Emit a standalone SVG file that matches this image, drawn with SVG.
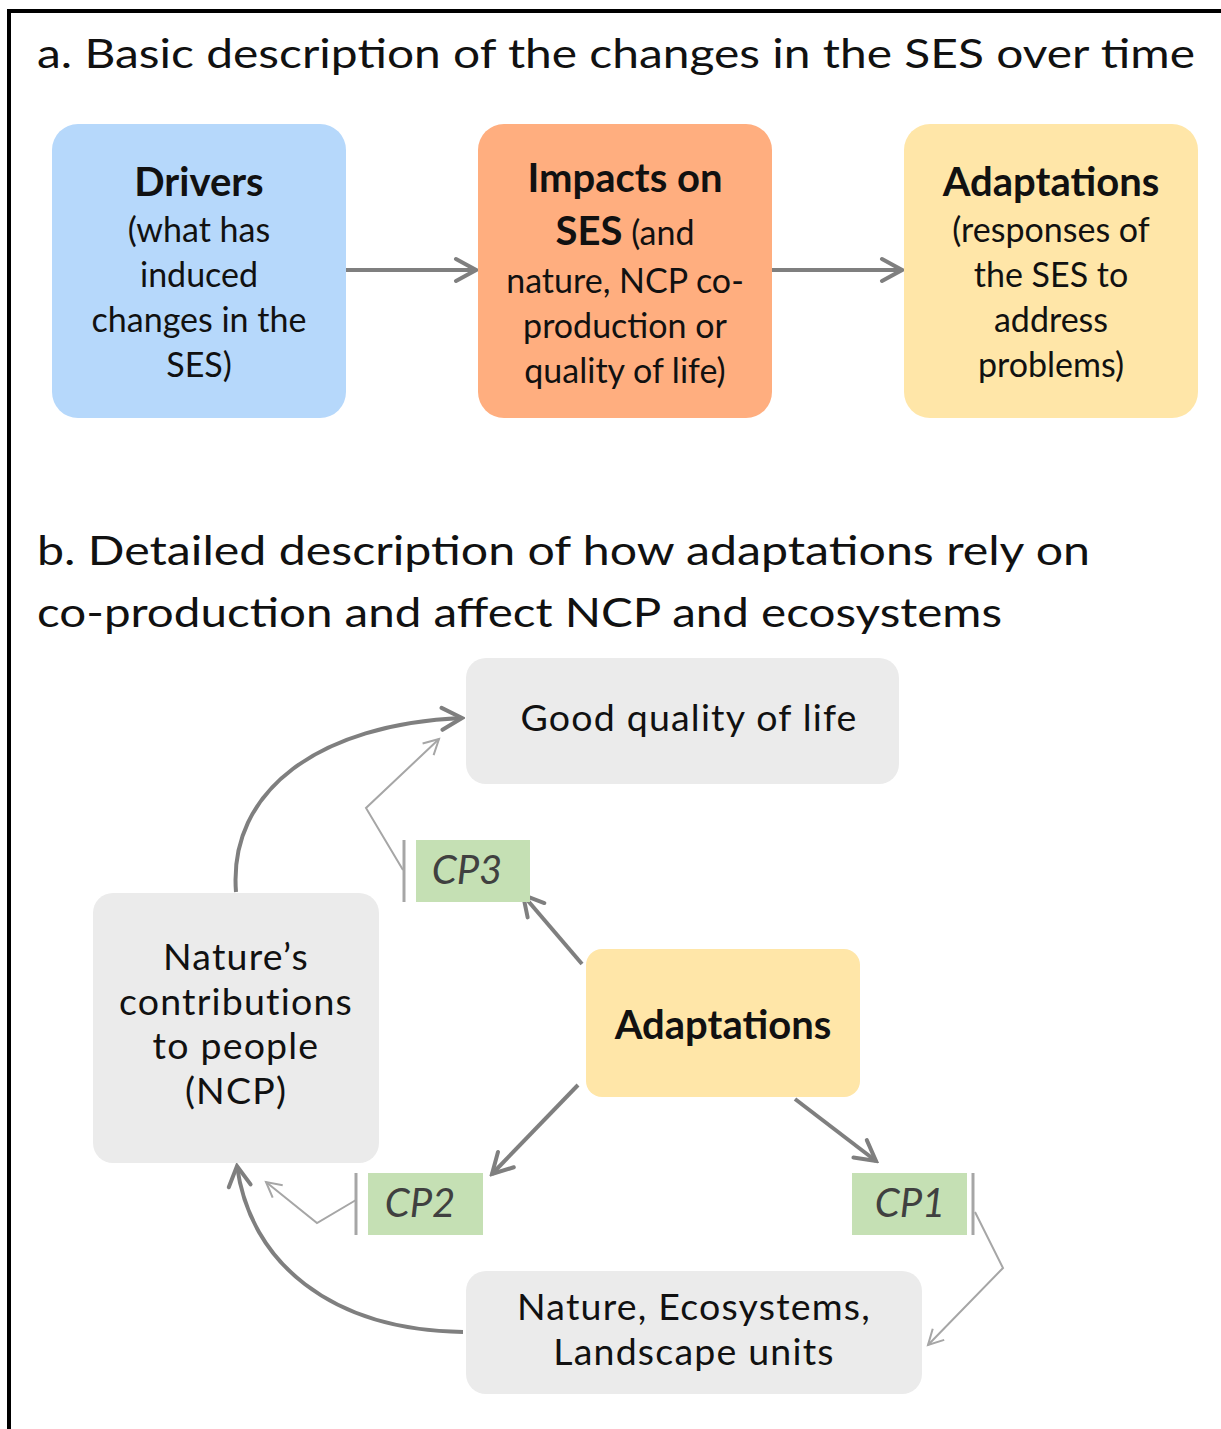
<svg xmlns="http://www.w3.org/2000/svg" width="1221" height="1429" viewBox="0 0 1221 1429">
<style>
  text { font-family: Lato, "Open Sans", "Liberation Sans", sans-serif; fill: #111; text-anchor: middle; }
  .title { font-size: 40px; text-anchor: start; }
  .box { font-size: 34px; }
  .b { font-weight: bold; }
  .hd { font-size: 40px; font-weight: bold; }
  .big { font-size: 37.5px; letter-spacing: 1.2px; }
  .bigb { font-size: 40px; font-weight: bold; }
  .cp { font-size: 40px; font-style: italic; fill: #404040; }
  .thick { fill: none; stroke: #7f7f7f; stroke-width: 4; }
  .thin { fill: none; stroke: #a6a6a6; stroke-width: 2; }
  .bar { stroke: #a6a6a6; stroke-width: 3; }
</style>
<defs>
  <marker id="ah" markerUnits="userSpaceOnUse" viewBox="0 0 26 28" markerWidth="26" markerHeight="28" refX="23" refY="14" orient="auto">
    <path d="M3,3 L23,14 L3,25" fill="none" stroke="#7f7f7f" stroke-width="4" stroke-linecap="round" stroke-linejoin="miter"/>
  </marker>
  <marker id="ahs" markerUnits="userSpaceOnUse" viewBox="0 0 20 20" markerWidth="20" markerHeight="20" refX="17" refY="10" orient="auto">
    <path d="M2,2 L17,10 L2,18" fill="none" stroke="#a6a6a6" stroke-width="2"/>
  </marker>
</defs>
<rect width="1221" height="1429" fill="#ffffff"/>
<rect x="9" y="11" width="1230" height="1440" fill="none" stroke="#000" stroke-width="4"/>

<text class="title" x="37" y="68" textLength="1158" lengthAdjust="spacingAndGlyphs">a. Basic description of the changes in the SES over time</text>
<text class="title" x="37" y="565" textLength="1053" lengthAdjust="spacingAndGlyphs">b. Detailed description of how adaptations rely on</text>
<text class="title" x="37" y="627" textLength="965" lengthAdjust="spacingAndGlyphs">co-production and affect NCP and ecosystems</text>

<g id="connectors">
  <line class="thick" x1="346" y1="270" x2="476" y2="270" marker-end="url(#ah)"/>
  <line class="thick" x1="772" y1="270" x2="902" y2="270" marker-end="url(#ah)"/>
  <path class="thick" d="M236,892 C228,790 320,724 462,718" marker-end="url(#ah)"/>
  <path class="thin" d="M403,870 L366,808 L439,739" marker-end="url(#ahs)"/>
  <line class="thick" x1="582" y1="964" x2="523" y2="895" marker-end="url(#ah)"/>
  <line class="thick" x1="578" y1="1085" x2="492" y2="1174" marker-end="url(#ah)"/>
  <line class="thick" x1="795" y1="1099" x2="876" y2="1161" marker-end="url(#ah)"/>
  <path class="thin" d="M356,1200 L317,1223 L266,1182" marker-end="url(#ahs)"/>
  <path class="thick" d="M463,1332 C330,1330 250,1262 237,1166" marker-end="url(#ah)"/>
  <path class="thin" d="M975,1212 L1003,1268 L928,1345" marker-end="url(#ahs)"/>
</g>

<g id="drivers">
  <rect x="52" y="124" width="294" height="294" rx="26" fill="#b6d8fb"/>
  <text class="hd" x="199" y="196">Drivers</text>
  <text class="box" x="199" y="242">(what has</text>
  <text class="box" x="199" y="287">induced</text>
  <text class="box" x="199" y="332">changes in the</text>
  <text class="box" x="199" y="377">SES)</text>
</g>
<g id="impacts">
  <rect x="478" y="124" width="294" height="294" rx="26" fill="#ffae7f"/>
  <text class="hd" x="625" y="192">Impacts on</text>
  <text class="box" x="625" y="245"><tspan class="hd">SES</tspan> (and</text>
  <text class="box" x="625" y="293">nature, NCP co-</text>
  <text class="box" x="625" y="338">production or</text>
  <text class="box" x="625" y="383">quality of life)</text>
</g>
<g id="adaptations-a">
  <rect x="904" y="124" width="294" height="294" rx="26" fill="#ffe6a8"/>
  <text class="hd" x="1051" y="196">Adaptations</text>
  <text class="box" x="1051" y="242">(responses of</text>
  <text class="box" x="1051" y="287">the SES to</text>
  <text class="box" x="1051" y="332">address</text>
  <text class="box" x="1051" y="377">problems)</text>
</g>

<g id="quality">
  <rect x="466" y="658" width="433" height="126" rx="20" fill="#ebebeb"/>
  <text class="big" x="689" y="731">Good quality of life</text>
</g>
<g id="ncp">
  <rect x="93" y="893" width="286" height="270" rx="20" fill="#ebebeb"/>
  <text class="big" x="236" y="970">Nature’s</text>
  <text class="big" x="236" y="1015">contributions</text>
  <text class="big" x="236" y="1059">to people</text>
  <text class="big" x="236" y="1104">(NCP)</text>
</g>
<g id="adaptations-b">
  <rect x="586" y="949" width="274" height="148" rx="16" fill="#ffe6a8"/>
  <text class="bigb" x="723" y="1039">Adaptations</text>
</g>
<g id="nature">
  <rect x="466" y="1271" width="456" height="123" rx="20" fill="#ebebeb"/>
  <text class="big" x="694" y="1320">Nature, Ecosystems,</text>
  <text class="big" x="694" y="1365">Landscape units</text>
</g>
<g id="cp3">
  <rect x="416" y="840" width="114" height="62" fill="#c5e0b4"/>
  <line class="bar" x1="404" y1="840" x2="404" y2="902"/>
  <text class="cp" x="467" y="884">CP3</text>
</g>
<g id="cp2">
  <rect x="368" y="1173" width="115" height="62" fill="#c5e0b4"/>
  <line class="bar" x1="356" y1="1173" x2="356" y2="1235"/>
  <text class="cp" x="420" y="1217">CP2</text>
</g>
<g id="cp1">
  <rect x="852" y="1173" width="115" height="62" fill="#c5e0b4"/>
  <line class="bar" x1="973" y1="1173" x2="973" y2="1235"/>
  <text class="cp" x="910" y="1217">CP1</text>
</g>
</svg>
